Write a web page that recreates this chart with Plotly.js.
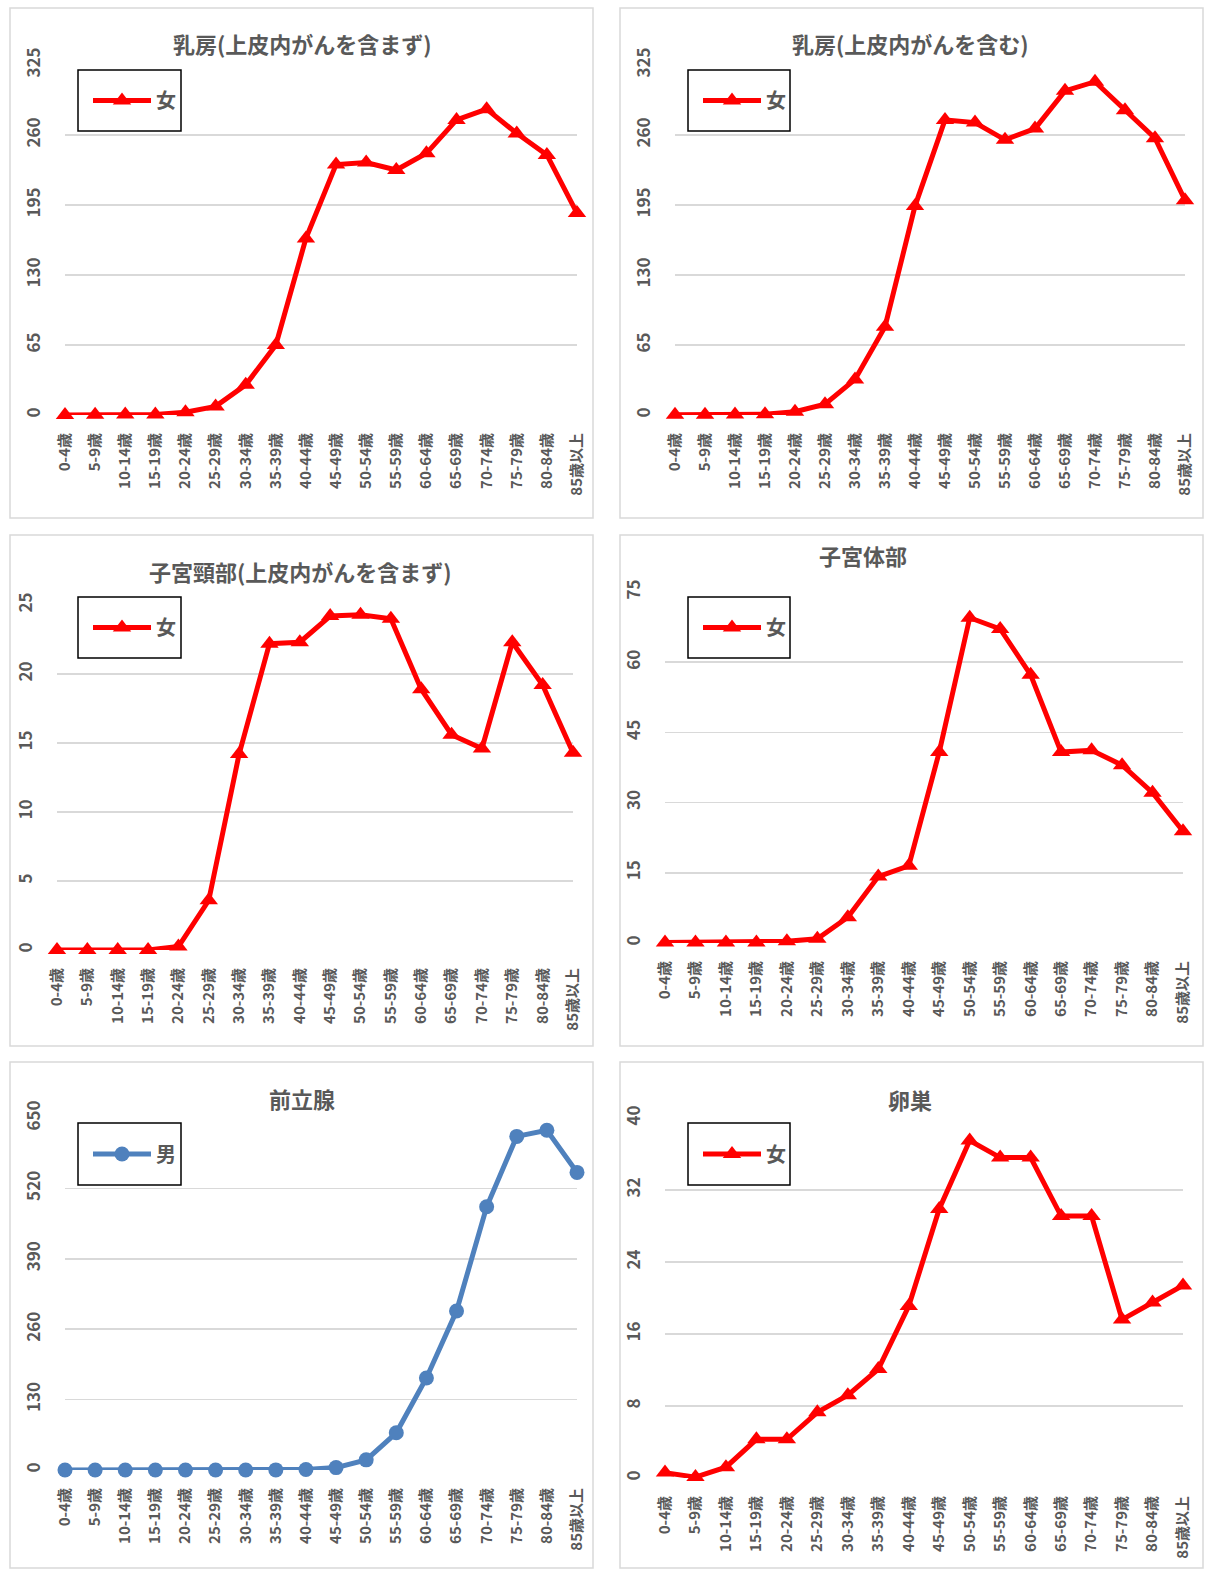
<!DOCTYPE html>
<html><head><meta charset="utf-8">
<script src="https://cdn.plot.ly/plotly-3.0.1.min.js"></script>
<style>html,body{margin:0;padding:0;background:#fff;overflow:hidden}#chart{width:1220px;height:1590px}</style>
</head><body><div id="chart"></div>
<script>
// ---- data ----
const ageGroups = ['0-4歳','5-9歳','10-14歳','15-19歳','20-24歳','25-29歳','30-34歳','35-39歳','40-44歳','45-49歳','50-54歳','55-59歳','60-64歳','65-69歳','70-74歳','75-79歳','80-84歳','85歳以上'];
const breastExclInSitu = [0.1,0.2,0.5,0.5,2.5,8,28,65,164,232.5,234.5,227.5,243,274,284,261.5,241.5,187.5];
const breastInclInSitu = [0.2,0.3,0.5,0.7,3,10,33,82,194,274,271.5,255.5,266,301,309.5,283,257,199.5];
const cervixExclInSitu = [0,0,0,0,0.25,3.6,14.2,22.2,22.3,24.2,24.3,24.0,18.9,15.6,14.6,22.3,19.2,14.3];
const uterineBody = [0.1,0.1,0.1,0.1,0.35,0.9,5.5,14.2,16.5,40.8,69.5,67.1,57.3,40.8,41.2,38.0,32.1,23.9];
const prostate = [0,0,0,0,0,0,0,0.2,1,4.4,18.7,68.7,170,293.5,486,616,627.5,549.5];
const ovary = [0.6,0.1,1.2,4.3,4.3,7.3,9.2,12.1,19.1,29.9,37.5,35.6,35.6,29.1,29.1,17.6,19.5,21.4];

const titles = ['乳房(上皮内がんを含まず)','乳房(上皮内がんを含む)','子宮頸部(上皮内がんを含まず)','子宮体部','前立腺','卵巣'];
const seriesNames = ['女','女','女','女','男','女'];
const seriesValues = [breastExclInSitu, breastInclInSitu, cervixExclInSitu, uterineBody, prostate, ovary];
const yMax = [325,325,25,75,650,40];
const yStep = [65,65,5,15,130,8];

// ---- layout geometry (pixels) ----
const W = 1220, H = 1590;
const panels = [
  {box:[10,8,593,518],   plot:[65,577,65,415],   title:[302,43],  leg:[78,70,181,131]},
  {box:[620,8,1203,518], plot:[675,1185,65,415], title:[910,43],  leg:[688,70,790,131]},
  {box:[10,535,593,1046],plot:[57,573,605,950],  title:[300,571], leg:[78,597,181,658]},
  {box:[620,535,1203,1046],plot:[665,1183,592,943],title:[863,555],leg:[688,597,790,658]},
  {box:[10,1062,593,1568],plot:[65,577,1118,1470],title:[302,1098],leg:[78,1123,181,1185]},
  {box:[620,1062,1203,1568],plot:[665,1183,1118,1478],title:[910,1099],leg:[688,1123,790,1185]}
];
const px = x => x / W;
const py = y => 1 - y / H;

const FONT = '"Noto Sans CJK JP", "Noto Sans", sans-serif';
const GRAY = '#595959';

const traces = [];
const layout = {
  width: W, height: H,
  margin: {l:0, r:0, t:0, b:0},
  paper_bgcolor: '#fff', plot_bgcolor: 'rgba(0,0,0,0)',
  font: {family: FONT, color: GRAY},
  shapes: [], annotations: [],
  showlegend: true
};

panels.forEach((p, i) => {
  const n = i + 1;
  const sfx = (n === 1 ? '' : String(n));
  const isMale = seriesNames[i] === '男';
  const color = isMale ? '#4F81BD' : '#FF0000';
  traces.push({
    type: 'scatter', mode: 'lines+markers',
    x: ageGroups, y: seriesValues[i], name: seriesNames[i],
    xaxis: 'x' + sfx, yaxis: 'y' + sfx,
    legend: 'legend' + sfx,
    line: {color: color, width: 5},
    marker: {color: color, symbol: isMale ? 'circle' : 'triangle-up', size: isMale ? 15 : 16},
    cliponaxis: false, hoverinfo: 'x+y'
  });
  const tv = [];
  for (let v = 0; v <= yMax[i] + 1e-9; v += yStep[i]) tv.push(+v.toFixed(6));
  layout['xaxis' + sfx] = {
    domain: [px(p.plot[0]), px(p.plot[1])],
    anchor: 'y' + sfx,
    type: 'category', range: [0, 17],
    showgrid: false, zeroline: false, showline: false, ticks: '',
    tickangle: -90, ticklabelstandoff: 14,
    tickfont: {family: FONT, size: 15, color: GRAY, weight: 'bold'},
    fixedrange: true
  };
  layout['yaxis' + sfx] = {
    domain: [py(p.plot[3]), py(p.plot[2])],
    anchor: 'x' + sfx,
    range: [0, yMax[i]], tickvals: tv, ticktext: tv.map(String),
    showgrid: true, gridcolor: '#d9d9d9', gridwidth: 1.5,
    zeroline: false, showline: false, ticks: '',
    tickangle: -90, ticklabelstandoff: 21,
    tickfont: {family: FONT, size: 17, color: GRAY, weight: 'bold'},
    fixedrange: true
  };
  layout.shapes.push({type:'rect', xref:'paper', yref:'paper',
    x0: px(p.box[0]), x1: px(p.box[2]), y0: py(p.box[3]), y1: py(p.box[1]),
    line: {color:'#d9d9d9', width:1.5}, layer:'below'});
  layout.shapes.push({type:'rect', xref:'paper', yref:'paper',
    x0: px(p.leg[0]), x1: px(p.leg[2]), y0: py(p.leg[3]), y1: py(p.leg[1]),
    line: {color:'#000', width:1.5}});
  layout.annotations.push({xref:'paper', yref:'paper', x: px(p.title[0]), y: py(p.title[1]),
    xanchor:'center', yanchor:'middle', showarrow:false, text: titles[i],
    font: {family: FONT, size: 22, color: GRAY, weight: 'bold'}});
  layout['legend' + sfx] = {
    x: px(p.leg[0] + 10), y: py((p.leg[1] + p.leg[3]) / 2), xanchor: 'left', yanchor: 'middle',
    bgcolor: 'rgba(0,0,0,0)', borderwidth: 0, itemwidth: 58,
    font: {family: FONT, size: 20, color: GRAY, weight: 'bold'}
  };
});

Plotly.newPlot('chart', traces, layout, {displayModeBar: false, staticPlot: true});
</script>
</body></html>
